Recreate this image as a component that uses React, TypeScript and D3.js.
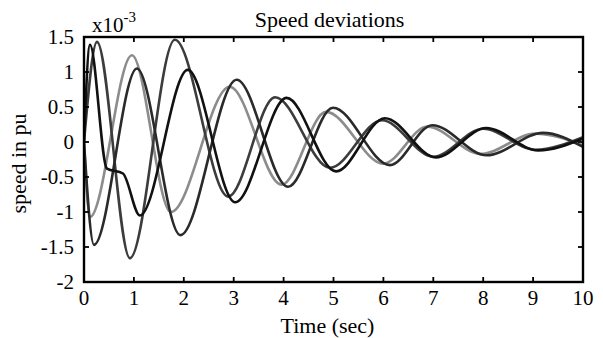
import * as d3 from 'd3'

const xTicks = [0, 1, 2, 3, 4, 5, 6, 7, 8, 9, 10]
const yTicks = [-2, -1.5, -1, -0.5, 0, 0.5, 1, 1.5]
const yTickLabels = ['-2', '-1.5', '-1', '-0.5', '0', '0.5', '1', '1.5']

// peaks / troughs: [time (s), speed (x1e-3 pu)]
const gen1: [number, number][] = [
  [0, 0], [0.26, 1.43], [0.92, -1.66], [1.82, 1.46], [2.89, -0.78], [3.83, 0.64],
  [4.93, -0.37], [5.97, 0.31], [7.0, -0.21], [8.0, 0.19], [9.04, -0.11], [10, 0.07],
]
const gen2: [number, number][] = [
  [0, 0], [0.12, 1.39], [0.46, -0.38], [0.78, -0.45], [1.12, -1.05], [2.08, 1.03],
  [3.03, -0.86], [4.06, 0.63], [5.05, -0.42], [6.03, 0.34], [7.05, -0.22], [8.06, 0.2],
  [9.1, -0.12], [10, 0.05],
]
const gen3: [number, number][] = [
  [0, 0], [0.12, -1.07], [0.96, 1.24], [1.74, -1.0], [2.92, 0.79], [3.96, -0.61],
  [4.85, 0.43], [6.0, -0.31], [6.88, 0.22], [7.95, -0.17], [9.05, 0.12], [10, -0.05],
]
const gen4: [number, number][] = [
  [0, 0], [0.2, -1.47], [1.06, 1.05], [1.93, -1.33], [3.06, 0.89], [4.09, -0.64],
  [4.99, 0.49], [6.13, -0.33], [6.98, 0.24], [8.07, -0.19], [9.2, 0.13], [10, -0.07],
]

const series = [
  { name: 'gen3', data: gen3, color: '#8c8c8c' },
  { name: 'gen1', data: gen1, color: '#3c3c3c' },
  { name: 'gen4', data: gen4, color: '#2a2a2a' },
  { name: 'gen2', data: gen2, color: '#111111' },
]

export default function App() {
  const width = 603
  const height = 338
  const margin = { top: 37, right: 20, bottom: 56, left: 84 }
  const innerW = width - margin.left - margin.right
  const innerH = height - margin.top - margin.bottom

  const x = d3.scaleLinear().domain([0, 10]).range([0, innerW])
  const y = d3.scaleLinear().domain([-2, 1.5]).range([innerH, 0])

  const line = d3.line<[number, number]>()
    .x((d) => x(d[0]))
    .y((d) => y(d[1]))
    .curve(d3.curveMonotoneX)

  const font = '"Liberation Serif", "Times New Roman", serif'
  const tick = 5

  return (
    <svg width={width} height={height} style={{ position: 'absolute', left: 0, top: 0, background: '#fff' }}>
      <g transform={`translate(${margin.left},${margin.top})`}>
        <defs>
          <clipPath id="plot-clip">
            <rect x={0} y={0} width={innerW} height={innerH} />
          </clipPath>
        </defs>

        <g clipPath="url(#plot-clip)">
          {series.map((s) => (
            <path key={s.name} d={line(s.data) || ''} fill="none" stroke={s.color}
              strokeWidth={2.6} strokeLinejoin="round" />
          ))}
        </g>

        {/* ticks on all four sides, pointing inward */}
        {xTicks.map((t) => (
          <g key={'xt' + t}>
            <line x1={x(t)} x2={x(t)} y1={innerH} y2={innerH - tick} stroke="#000" strokeWidth={1.8} />
            <line x1={x(t)} x2={x(t)} y1={0} y2={tick} stroke="#000" strokeWidth={1.8} />
            <text x={x(t)} y={innerH + 23} textAnchor="middle" fontFamily={font} fontSize={21}>{t}</text>
          </g>
        ))}
        {yTicks.map((t, i) => (
          <g key={'yt' + t}>
            <line x1={0} x2={tick} y1={y(t)} y2={y(t)} stroke="#000" strokeWidth={1.8} />
            <line x1={innerW} x2={innerW - tick} y1={y(t)} y2={y(t)} stroke="#000" strokeWidth={1.8} />
            <text x={-10} y={y(t)} dy="0.35em" textAnchor="end" fontFamily={font} fontSize={21}>{yTickLabels[i]}</text>
          </g>
        ))}

        <rect x={0} y={0} width={innerW} height={innerH} fill="none" stroke="#000" strokeWidth={2.4} />

        <text x={8} y={-5} fontFamily={font} fontSize={21}>
          x10<tspan dy={-10} fontSize={15}>-3</tspan>
        </text>
        <text x={innerW / 2 - 4} y={-10} textAnchor="middle" fontFamily={font} fontSize={22}>Speed deviations</text>
        <text x={innerW / 2 - 6} y={innerH + 51} textAnchor="middle" fontFamily={font} fontSize={22}>Time (sec)</text>
        <text transform={`translate(${-margin.left + 26},${innerH / 2 + 4}) rotate(-90)`} textAnchor="middle"
          fontFamily={font} fontSize={22}>speed in pu</text>
      </g>
    </svg>
  )
}
